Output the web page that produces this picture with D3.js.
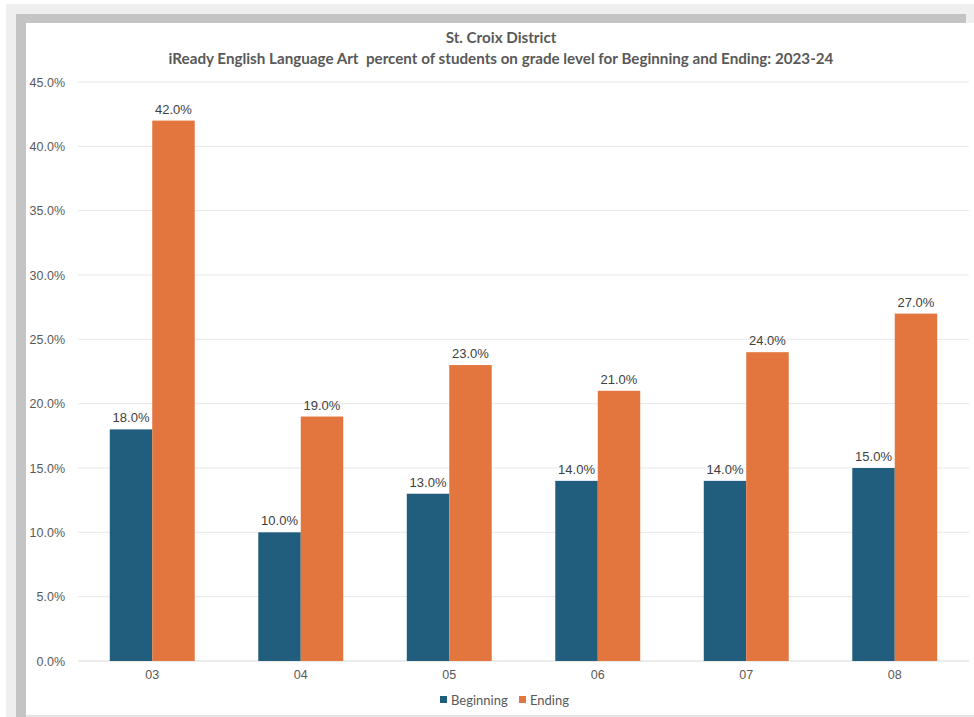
<!DOCTYPE html>
<html><head><meta charset="utf-8">
<script src="https://cdn.jsdelivr.net/npm/d3@7"></script>
<style>body{margin:0;background:#fff}svg{display:block}</style>
</head><body>
<svg id="c" width="974" height="717"></svg>
<script>
const categories = ["03","04","05","06","07","08"];
const seriesNames = ["Beginning","Ending"];
const beginning = [18,10,13,14,14,15];
const ending = [42,19,23,21,24,27];
const yTicks = [0,5,10,15,20,25,30,35,40,45];
const titleLines = ["St. Croix District","iReady English Language Art  percent of students on grade level for Beginning and Ending: 2023-24"];
const colors = ["#215e7e","#e3753e"];

const svg = d3.select("#c");
// frame / shadow
svg.append("rect").attr("x",6).attr("y",4).attr("width",968).attr("height",713).attr("fill","#efefef");
svg.append("rect").attr("x",16).attr("y",14).attr("width",950).attr("height",703).attr("fill","#c4c4c4");
svg.append("rect").attr("x",26).attr("y",23).attr("width",948).attr("height",692).attr("fill","#fff");
svg.append("rect").attr("x",26).attr("y",715).attr("width",948).attr("height",2).attr("fill","#e4e4e4");

const m = {left:78, right:969, top:82, bottom:661};
const x = d3.scaleBand().domain(categories).range([m.left,m.right]).paddingInner(0.428).paddingOuter(0.214);
const xs = d3.scaleBand().domain(seriesNames).range([0,x.bandwidth()]);
const y = d3.scaleLinear().domain([0,45]).range([m.bottom,m.top]);

// gridlines
svg.append("g").selectAll("line").data(yTicks).join("line")
  .attr("x1",m.left).attr("x2",m.right)
  .attr("y1",d=>y(d)).attr("y2",d=>y(d))
  .attr("stroke",d=>d===0?"#d9d9d9":"#e8e8e8").attr("stroke-width",1);

// y axis labels
const yAxis = d3.axisLeft(y).tickValues(yTicks).tickFormat(d=>d3.format(".1f")(d)+"%").tickSize(0).tickPadding(0);
const ya = svg.append("g").attr("transform",`translate(65,0)`).call(yAxis);
ya.select(".domain").remove();
ya.selectAll("text").attr("font-family","Liberation Sans, Arial, sans-serif").attr("font-size",12.5).attr("fill","#595959");

// x axis labels
const xAxis = d3.axisBottom(x).tickSize(0).tickPadding(0);
const xa = svg.append("g").attr("transform",`translate(0,${m.bottom+9})`).call(xAxis);
xa.select(".domain").remove();
xa.selectAll("text").attr("font-family","Liberation Sans, Arial, sans-serif").attr("font-size",12.5).attr("fill","#595959");

const data = categories.map((c,i)=>({cat:c, vals:[{s:"Beginning",v:beginning[i]},{s:"Ending",v:ending[i]}]}));
const g = svg.append("g").selectAll("g").data(data).join("g").attr("transform",d=>`translate(${x(d.cat)},0)`);
g.selectAll("rect").data(d=>d.vals).join("rect")
  .attr("x",d=>xs(d.s)).attr("width",xs.bandwidth())
  .attr("y",d=>y(d.v)).attr("height",d=>y(0)-y(d.v))
  .attr("fill",(d,i)=>colors[i]);
g.selectAll("text").data(d=>d.vals).join("text")
  .attr("x",d=>xs(d.s)+xs.bandwidth()/2).attr("y",d=>y(d.v)-7)
  .attr("text-anchor","middle")
  .attr("font-family","Liberation Sans, Arial, sans-serif").attr("font-size",13).attr("fill","#404040")
  .text(d=>d3.format(".1f")(d.v)+"%");

// title
svg.append("g").selectAll("text").data(titleLines).join("text")
  .attr("x",501).attr("y",(d,i)=>43+i*21)
  .attr("text-anchor","middle")
  .attr("font-family","Lato, sans-serif").attr("font-weight","bold").attr("font-size",15.2).attr("fill","#595959")
  .attr("xml:space","preserve").style("white-space","pre")
  .text(d=>d);

// legend
const lg = svg.append("g").attr("transform","translate(440,701)");
const items = lg.selectAll("g").data(seriesNames).join("g").attr("transform",(d,i)=>`translate(${i===0?0:79},0)`);
items.append("rect").attr("x",0).attr("y",-5).attr("width",7).attr("height",7).attr("fill",(d,i)=>colors[i]);
items.append("text").attr("x",11).attr("y",4).attr("font-family","Lato, sans-serif").attr("font-size",13).attr("fill","#595959").text(d=>d);
</script>
</body></html>
